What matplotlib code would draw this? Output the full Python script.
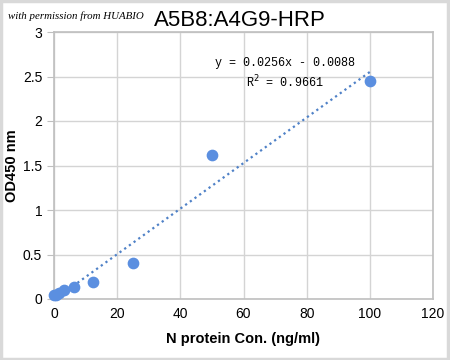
import matplotlib.pyplot as plt
import numpy as np
from matplotlib.patches import Rectangle

# Data
conc = [0, 0.78, 1.56, 3.125, 6.25, 12.5, 25, 50, 100]
od450 = [0.04, 0.05, 0.07, 0.10, 0.13, 0.19, 0.41, 1.62, 2.45]
slope = 0.0256
intercept = -0.0088
r2 = 0.9661

fig = plt.figure(figsize=(4.5, 3.6), dpi=100)
ax = fig.add_axes([54 / 450, 1 - 299 / 360, (433 - 54) / 450, (299 - 32) / 360])

# Fit line
xfit = np.array([min(conc), max(conc)])
ax.plot(xfit, slope * xfit + intercept, linestyle=(0, (1, 1.6)), color='#4f81c7', lw=1.6, zorder=2)

# Points
ax.scatter(conc, od450, s=55, color='#5b8fe0', zorder=3, clip_on=False)

ax.set_xlim(0, 120)
ax.set_ylim(0, 3)
ax.set_xticks(np.arange(0, 121, 20))
ax.set_yticks([0, 0.5, 1, 1.5, 2, 2.5, 3])
ax.set_yticklabels(['0', '0.5', '1', '1.5', '2', '2.5', '3'])
ax.grid(True, color='#d4d4d4', lw=1)
ax.set_axisbelow(True)
for s in ax.spines.values():
    s.set_color('#bfbfbf')
    s.set_linewidth(1.2)
ax.tick_params(axis='both', labelsize=10, colors='#bfbfbf', labelcolor='black', length=5)
ax.tick_params(axis='x', length=0, pad=6)

ax.set_xlabel('N protein Con. (ng/ml)', fontsize=10.5, fontweight='bold', family='Liberation Sans', labelpad=8)
ax.set_ylabel('OD450 nm', fontsize=10.5, fontweight='bold', family='Liberation Sans', labelpad=3)
for lab in ax.get_xticklabels() + ax.get_yticklabels():
    lab.set_family('Liberation Sans')

# Equation
ax.text(73, 2.65, 'y = 0.0256x - 0.0088', fontsize=8.5, family='Liberation Mono', ha='center', va='center')
ax.text(73, 2.44, 'R$^2$ = 0.9661', fontsize=8.5, family='Liberation Mono', ha='center', va='center')

# Title and watermark
fig.text(8 / 450, 1 - 16 / 360, 'with permission from HUABIO', fontsize=7.8, style='italic',
         family='Liberation Serif', va='center', ha='left')
fig.text(240 / 450, 1 - 21 / 360, 'A5B8:A4G9-HRP', fontsize=16, family='Liberation Sans',
         va='center', ha='center')

# Image frame
fig.patches.append(Rectangle((0.002, 0.003), 0.994, 0.993, transform=fig.transFigure,
                             fill=False, edgecolor='#d9d9d9', lw=2.5))

fig.savefig('out.png', dpi=100)
